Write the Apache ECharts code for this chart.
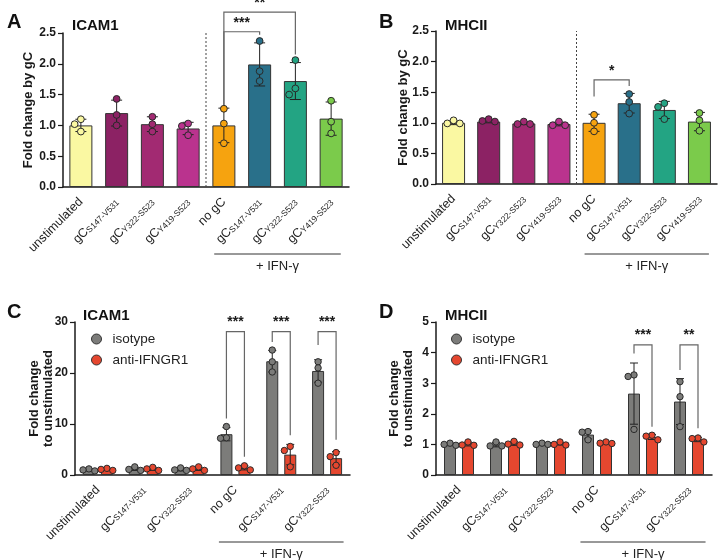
<!DOCTYPE html>
<html><head><meta charset="utf-8">
<script src="https://cdn.jsdelivr.net/npm/echarts@6/dist/echarts.min.js"></script>
<style>html,body{margin:0;padding:0;background:#fff}#c{width:720px;height:560px}</style>
</head><body><div id="c"></div>
<script>
// ---------- categories ----------
const catsAB = ['unstimulated','gC|S147-V531','gC|Y322-S523','gC|Y419-S523','no gC','gC|S147-V531','gC|Y322-S523','gC|Y419-S523'];
const catsCD = ['unstimulated','gC|S147-V531','gC|Y322-S523','no gC','gC|S147-V531','gC|Y322-S523'];

// ---------- Panel A: ICAM1 fold change by gC ----------
const aMeans = [1.00,1.20,1.02,0.95,1.00,1.99,1.72,1.11];
const aSD    = [0.10,0.21,0.12,0.10,0.28,0.35,0.30,0.27];
const aPts   = [[1.10,1.02,0.90],[1.43,1.17,1.00],[1.14,1.02,0.90],[1.03,0.99,0.84],[1.27,1.03,0.71],[2.37,1.88,1.72],[2.06,1.60,1.50],[1.40,1.06,0.87]];
// [fromCat, toCat, bracketY, leftLegBottom, rightLegBottom, starY]
const aBrackets = [[4,5,2.52,1.33,2.47,2.66],[4,6,2.84,1.33,2.15,2.99]];
const aStars = ['***','**'];

// ---------- Panel B: MHCII fold change by gC ----------
const bMeans = [1.00,1.02,0.99,0.98,1.00,1.32,1.21,1.02];
const bSD    = [0.03,0.02,0.02,0.03,0.14,0.16,0.14,0.15];
const bPts   = [[1.04,0.99,0.99],[1.06,1.03,1.02],[1.02,0.98,0.98],[1.02,0.96,0.96],[1.13,1.00,0.86],[1.47,1.34,1.15],[1.32,1.26,1.06],[1.16,1.04,0.87]];
const bBrackets = [[4,5,1.70,1.43,1.60,1.85]];
const bStars = ['*'];

// ---------- Panel C: ICAM1 fold change to unstimulated ----------
const cIsoMeans  = [1.0,1.2,1.1,8.0,22.3,20.4];
const cIsoSD     = [0.2,0.3,0.3,1.3,2.1,2.2];
const cIsoPts    = [[1.2,1.0,0.8],[1.6,1.1,0.9],[1.4,1.0,0.9],[9.5,7.3,7.2],[24.5,22.2,20.2],[22.2,21.0,18.0]];
const cAntiMeans = [1.1,1.2,1.2,1.4,4.0,3.3];
const cAntiSD    = [0.2,0.3,0.3,0.4,2.0,1.3];
const cAntiPts   = [[1.3,1.1,0.9],[1.5,1.2,0.9],[1.6,1.2,0.9],[1.8,1.4,1.0],[5.6,4.8,1.6],[4.4,3.6,1.9]];
// [cat, bracketTop, isoLegBottom, antiLegBottom, starY]
const cBrackets = [[3,28.1,11.1,3.6,30.0],[4,28.1,26.1,7.8,30.0],[5,28.1,25.5,6.9,30.0]];
const cStars = ['***','***','***'];

// ---------- Panel D: MHCII fold change to unstimulated ----------
const dIsoMeans  = [1.00,0.99,1.01,1.32,2.66,2.40];
const dIsoSD     = [0.04,0.07,0.03,0.14,1.00,0.75];
const dIsoPts    = [[1.04,1.00,0.97],[1.08,0.95,0.95],[1.04,1.00,1.00],[1.42,1.40,1.15],[3.27,3.22,1.49],[3.05,2.56,1.58]];
const dAntiMeans = [1.01,1.03,1.02,1.05,1.24,1.16];
const dAntiSD    = [0.06,0.06,0.04,0.03,0.08,0.07];
const dAntiPts   = [[1.08,0.98,0.97],[1.10,1.01,0.98],[1.08,1.00,0.98],[1.08,1.04,1.03],[1.30,1.27,1.15],[1.21,1.19,1.08]];
const dBrackets = [[4,4.25,3.97,1.58,4.57],[5,4.25,3.43,1.53,4.57]];
const dStars = ['***','**'];

// ---------- styles ----------
const colorsAB = ['#FAF8A2','#8C2264','#A22A72','#BA338E','#F6A30F','#29708A','#23A483','#7BCB4B'];
const ISO = '#7c7c7a', ANTI = '#E5472F';
const FONT = '"Liberation Sans", Arial, Helvetica, sans-serif';
const INK = '#1a1a1a';

const chart = echarts.init(document.getElementById('c'));

function fmtCat(v){
  if (v.indexOf('|') >= 0) { const p = v.split('|'); return '{g|' + p[0] + '}{s|' + p[1] + '}'; }
  return v;
}
function xAxisCfg(g, cats, margin){
  return {type:'category', gridIndex:g, data:cats,
    axisLine:{lineStyle:{color:INK,width:1.5}},
    axisTick:{alignWithLabel:true,length:5,lineStyle:{color:INK,width:1.2}},
    axisLabel:{rotate:45, margin, interval:0, fontFamily:FONT, fontSize:12.5, color:'#222',
      formatter:fmtCat,
      rich:{g:{fontFamily:FONT,fontSize:12.5,color:'#222',verticalAlign:'bottom'},
            s:{fontFamily:FONT,fontSize:8.5,color:'#222',verticalAlign:'bottom'}}}};
}
function yAxisCfg(g, max, interval, name, nameGap, dec){
  return {type:'value', gridIndex:g, min:0, max, interval, name, nameLocation:'middle', nameGap, nameRotate:90,
    nameMoveOverlap:false,
    nameTextStyle:{fontFamily:FONT,fontWeight:'bold',fontSize:13,color:INK,lineHeight:14},
    axisLine:{show:true,lineStyle:{color:INK,width:1.5}},
    axisTick:{show:true,length:5,lineStyle:{color:INK,width:1.2}},
    axisLabel:{fontFamily:FONT,fontWeight:'bold',fontSize:12,color:INK,margin:7,formatter:v=>v.toFixed(dec)},
    splitLine:{show:false}};
}
function errSeries(g, means, sds, off, cw){
  return {type:'custom', xAxisIndex:g, yAxisIndex:g, z:3, silent:true, encode:{x:0,y:1},
    data: means.map((m,i)=>[i,m,sds[i]]),
    renderItem(p, api){
      const i=api.value(0), m=api.value(1), s=api.value(2);
      const t=api.coord([i,m+s]), b=api.coord([i,Math.max(0,m-s)]);
      const x=t[0]+off; const st={stroke:'#222',lineWidth:1};
      return {type:'group',children:[
        {type:'line',shape:{x1:x,y1:t[1],x2:x,y2:b[1]},style:st},
        {type:'line',shape:{x1:x-cw,y1:t[1],x2:x+cw,y2:t[1]},style:st},
        {type:'line',shape:{x1:x-cw,y1:b[1],x2:x+cw,y2:b[1]},style:st}]};
    }};
}
function ptsSeries(g, pts, colorFn, off, R){
  return {type:'custom', xAxisIndex:g, yAxisIndex:g, z:4, silent:true, encode:{x:0,y:1},
    data: pts.map((p,i)=>[i].concat(p)),
    renderItem(p, api){
      const i=api.value(0);
      const cx=api.coord([i,0])[0]+off;
      const ys=[1,2,3].map(k=>api.coord([i,api.value(k)])[1]);
      const placed=[]; const d=2*R*0.92;
      ys.forEach(y=>{
        for (const k of [0,-1,1,-2,2]) {
          const dx=k*d;
          if (placed.every(q=>Math.hypot(q[0]-dx,q[1]-y)>=d)) { placed.push([dx,y]); break; }
        }
      });
      return {type:'group',children:placed.map(q=>({type:'circle',shape:{cx:cx+q[0],cy:q[1],r:R},
        style:{fill:colorFn(i),stroke:'#2a2a2a',lineWidth:1}}))};
    }};
}
function bracketSeriesAB(g, br, stars){
  return {type:'custom', xAxisIndex:g, yAxisIndex:g, z:5, silent:true, encode:{x:0,y:2},
    data: br,
    renderItem(p, api){
      const a=api.value(0), b=api.value(1), top=api.value(2), l=api.value(3), r=api.value(4), sy=api.value(5);
      const x1=api.coord([a,top])[0], x2=api.coord([b,top])[0];
      const yt=api.coord([a,top])[1], yl=api.coord([a,l])[1], yr=api.coord([b,r])[1], ys=api.coord([a,sy])[1];
      const st={stroke:'#666',lineWidth:1.2,fill:null};
      return {type:'group',children:[
        {type:'polyline',shape:{points:[[x1,yl],[x1,yt],[x2,yt],[x2,yr]]},style:st},
        {type:'text',x:(x1+x2)/2,y:ys,style:{text:stars[p.dataIndex],fill:INK,font:'bold 14px '+FONT,textAlign:'center',textVerticalAlign:'middle'}}]};
    }};
}
function bracketSeriesCD(g, br, stars, off){
  return {type:'custom', xAxisIndex:g, yAxisIndex:g, z:5, silent:true, encode:{x:0,y:1},
    data: br,
    renderItem(p, api){
      const c=api.value(0), top=api.value(1), l=api.value(2), r=api.value(3), sy=api.value(4);
      const cx=api.coord([c,top])[0];
      const x1=cx-off, x2=cx+off;
      const yt=api.coord([c,top])[1], yl=api.coord([c,l])[1], yr=api.coord([c,r])[1], ys=api.coord([c,sy])[1];
      const st={stroke:'#666',lineWidth:1.2,fill:null};
      return {type:'group',children:[
        {type:'polyline',shape:{points:[[x1,yl],[x1,yt],[x2,yt],[x2,yr]]},style:st},
        {type:'text',x:cx,y:ys,style:{text:stars[p.dataIndex],fill:INK,font:'bold 14px '+FONT,textAlign:'center',textVerticalAlign:'middle'}}]};
    }};
}
function dashSeries(g, a, b, ymax){
  return {type:'custom', xAxisIndex:g, yAxisIndex:g, z:1, silent:true, encode:{x:0,y:1},
    data:[[a,0]],
    renderItem(p, api){
      const x=(api.coord([a,0])[0]+api.coord([b,0])[0])/2;
      const y0=api.coord([a,0])[1], y1=api.coord([a,ymax])[1];
      return {type:'line',shape:{x1:x,y1:y0,x2:x,y2:y1},style:{stroke:'#444',lineWidth:1,lineDash:[2,2]}};
    }};
}
function ifnSeries(g, a, b, frac, dy){
  return {type:'custom', xAxisIndex:g, yAxisIndex:g, z:1, silent:true, encode:{x:0,y:1},
    data:[[a,0]],
    renderItem(p, api){
      const band=api.size([1,0])[0];
      const xa=api.coord([a,0])[0]-band*frac, xb=api.coord([b,0])[0]+band*frac;
      const y=api.coord([a,0])[1]+dy;
      return {type:'group',children:[
        {type:'line',shape:{x1:xa,y1:y,x2:xb,y2:y},style:{stroke:'#333',lineWidth:1}},
        {type:'text',x:(xa+xb)/2,y:y+6,style:{text:'+ IFN-\u03b3',fill:'#222',font:'13px '+FONT,textAlign:'center',textVerticalAlign:'top'}}]};
    }};
}

const BW = 12, GAP = 0.5, OFF = BW*(1+GAP)/2;
const isoColor = ()=>ISO, antiColor = ()=>ANTI;
const titleStyle = (s)=>({fontFamily:FONT,fontWeight:'bold',fontSize:s,color:'#111'});
const legendCfg = (left)=>({orient:'vertical', left, top:327, itemWidth:10, itemHeight:10, itemGap:7, icon:'circle',
     data:['isotype','anti-IFNGR1'], textStyle:{fontFamily:FONT,fontSize:13.5,color:'#222',padding:[0,0,0,6]},
     itemStyle:{borderColor:'#333',borderWidth:1}});

const option = {
  animation:false,
  backgroundColor:'#fff',
  title:[
    {text:'A',left:2,top:7,textStyle:titleStyle(20)},
    {text:'ICAM1',left:67,top:13,textStyle:titleStyle(15)},
    {text:'B',left:374,top:7,textStyle:titleStyle(20)},
    {text:'MHCII',left:440,top:13,textStyle:titleStyle(15)},
    {text:'C',left:2,top:297,textStyle:titleStyle(20)},
    {text:'ICAM1',left:78,top:303,textStyle:titleStyle(15)},
    {text:'D',left:374,top:297,textStyle:titleStyle(20)},
    {text:'MHCII',left:440,top:303,textStyle:titleStyle(15)}
  ],
  legend:[legendCfg(86), legendCfg(446)],
  grid:[
    {left:63, top:33, width:286, height:154},
    {left:436, top:31, width:281, height:153},
    {left:75, top:322, width:275, height:153},
    {left:436, top:322, width:276, height:153}
  ],
  xAxis:[xAxisCfg(0,catsAB,13), xAxisCfg(1,catsAB,13), xAxisCfg(2,catsCD,13), xAxisCfg(3,catsCD,13)],
  yAxis:[
    yAxisCfg(0,2.5,0.5,'Fold change by gC',28,1),
    yAxisCfg(1,2.5,0.5,'Fold change by gC',26,1),
    yAxisCfg(2,30,10,'Fold change\nto unstimulated',20,0),
    yAxisCfg(3,5,1,'Fold change\nto unstimulated',21,0)
  ],
  series:[
    // A
    {type:'bar', xAxisIndex:0, yAxisIndex:0, barWidth:23, z:2, silent:true,
     data:aMeans.map((v,i)=>({value:v,itemStyle:{color:colorsAB[i]}})), itemStyle:{borderColor:'#333',borderWidth:1}},
    dashSeries(0,3,4,2.5),
    errSeries(0,aMeans,aSD,0,5.5),
    ptsSeries(0,aPts,i=>colorsAB[i],0,3.4),
    bracketSeriesAB(0,aBrackets,aStars),
    ifnSeries(0,4,7,0.27,67),
    // B
    {type:'bar', xAxisIndex:1, yAxisIndex:1, barWidth:23, z:2, silent:true,
     data:bMeans.map((v,i)=>({value:v,itemStyle:{color:colorsAB[i]}})), itemStyle:{borderColor:'#333',borderWidth:1}},
    dashSeries(1,3,4,2.5),
    errSeries(1,bMeans,bSD,0,5.5),
    ptsSeries(1,bPts,i=>colorsAB[i],0,3.4),
    bracketSeriesAB(1,bBrackets,bStars),
    ifnSeries(1,4,7,0.27,70),
    // C
    {name:'isotype', type:'bar', xAxisIndex:2, yAxisIndex:2, barWidth:BW, barGap:(GAP*100)+'%', z:2, silent:true,
     data:cIsoMeans, itemStyle:{color:ISO,borderColor:'#333',borderWidth:1}},
    {name:'anti-IFNGR1', type:'bar', xAxisIndex:2, yAxisIndex:2, barWidth:BW, barGap:(GAP*100)+'%', z:2, silent:true,
     data:cAntiMeans, itemStyle:{color:ANTI,borderColor:'#333',borderWidth:1}},
    errSeries(2,cIsoMeans,cIsoSD,-OFF,4),
    errSeries(2,cAntiMeans,cAntiSD,OFF,4),
    ptsSeries(2,cIsoPts,isoColor,-OFF,3.2),
    ptsSeries(2,cAntiPts,antiColor,OFF,3.2),
    bracketSeriesCD(2,cBrackets,cStars,OFF),
    ifnSeries(2,3,5,0.36,67),
    // D
    {name:'isotype', type:'bar', xAxisIndex:3, yAxisIndex:3, barWidth:BW, barGap:(GAP*100)+'%', z:2, silent:true,
     data:dIsoMeans, itemStyle:{color:ISO,borderColor:'#333',borderWidth:1}},
    {name:'anti-IFNGR1', type:'bar', xAxisIndex:3, yAxisIndex:3, barWidth:BW, barGap:(GAP*100)+'%', z:2, silent:true,
     data:dAntiMeans, itemStyle:{color:ANTI,borderColor:'#333',borderWidth:1}},
    errSeries(3,dIsoMeans,dIsoSD,-OFF,4),
    errSeries(3,dAntiMeans,dAntiSD,OFF,4),
    ptsSeries(3,dIsoPts,isoColor,-OFF,3.2),
    ptsSeries(3,dAntiPts,antiColor,OFF,3.2),
    bracketSeriesCD(3,dBrackets,dStars,OFF),
    ifnSeries(3,3,5,0.36,67)
  ]
};
chart.setOption(option);
</script></body></html>
